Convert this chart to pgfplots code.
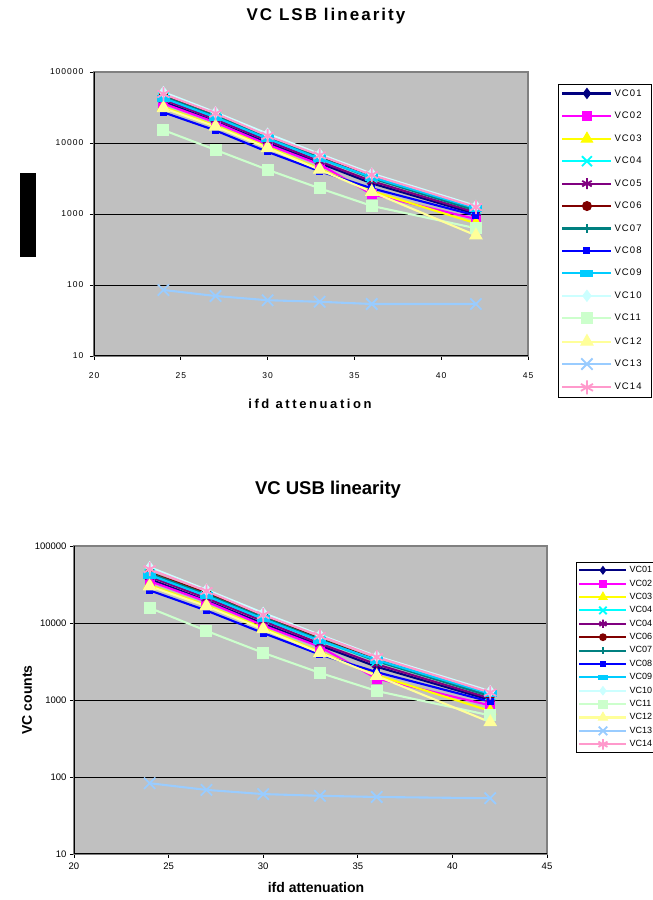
\documentclass[border=0pt]{standalone}
\usepackage{fontspec}
\setmainfont{Liberation Sans}
\newfontfamily\spc[LetterSpace=12]{Liberation Sans}
\newfontfamily\spcw[LetterSpace=20]{Liberation Sans}
\usepackage{pgfplots}
\pgfplotsset{compat=1.18}
\definecolor{c01}{HTML}{000080}
\definecolor{c02}{HTML}{FF00FF}
\definecolor{c03}{HTML}{FFFF00}
\definecolor{c04}{HTML}{00FFFF}
\definecolor{c05}{HTML}{800080}
\definecolor{c06}{HTML}{800000}
\definecolor{c07}{HTML}{008080}
\definecolor{c08}{HTML}{0000FF}
\definecolor{c09}{HTML}{00CCFF}
\definecolor{c10}{HTML}{CCFFFF}
\definecolor{c11}{HTML}{CCFFCC}
\definecolor{c12}{HTML}{FFFF99}
\definecolor{c13}{HTML}{99CCFF}
\definecolor{c14}{HTML}{FF99CC}
\definecolor{plotgray}{HTML}{C0C0C0}
\definecolor{framegray}{HTML}{808080}
\tikzset{
  s01/.style={c01, line width=2.1pt, mark=diamond*, mark size=5pt, mark options={solid, line width=1pt}},
  s02/.style={c02, line width=2.1pt, mark=square*, mark size=4.5pt, mark options={solid, line width=1pt}},
  s03/.style={c03, line width=2.1pt, mark=triangle*, mark size=6.5pt, mark options={solid, line width=1pt}},
  s04/.style={c04, line width=2.1pt, mark=x, mark size=7pt, mark options={solid, line width=1.8pt}},
  s05/.style={c05, line width=2.1pt, mark=asterisk, mark size=5.5pt, mark options={solid, line width=1.8pt}},
  s06/.style={c06, line width=2.1pt, mark=*, mark size=4.5pt, mark options={solid, line width=1pt}},
  s07/.style={c07, line width=2.1pt, mark=+, mark size=4.5pt, mark options={solid, line width=1.6pt}},
  s08/.style={c08, line width=2.1pt, mark=square*, mark size=3pt, mark options={solid, line width=1pt}},
  s09/.style={c09, line width=2.1pt, mark=square*, mark size=3pt, mark options={solid, xscale=2, line width=1pt}},
  s10/.style={c10, line width=2.1pt, mark=diamond*, mark size=5.5pt, mark options={solid, line width=1pt}},
  s11/.style={c11, line width=2.1pt, mark=square*, mark size=5.5pt, mark options={solid, line width=1pt}},
  s12/.style={c12, line width=2.1pt, mark=triangle*, mark size=7pt, mark options={solid, line width=1pt}},
  s13/.style={c13, line width=2.1pt, mark=x, mark size=8pt, mark options={solid, line width=1.8pt}},
  s14/.style={c14, line width=2.1pt, mark=asterisk, mark size=7pt, mark options={solid, line width=1.8pt}},
}
\begin{document}
\begin{tikzpicture}
\path[use as bounding box] (0pt,0pt) rectangle (653pt,900pt);
% ---------------- top chart ----------------
\node[font=\spc\fontsize{17}{20}\selectfont\bfseries] at (326pt,884pt) {VC LSB linearity};
\fill[black] (20pt,643pt) rectangle (36pt,727pt);
\begin{axis}[
  scale only axis,
  at={(94pt,544pt)}, anchor=south west, width=434pt, height=284pt,
  xmin=20, xmax=45, ymin=10, ymax=100000, ymode=log,
  xtick={20,25,30,35,40,45},
  ytick={10,100,1000,10000,100000},
  yticklabels={10,100,1000,10000,100000},
  yminorticks=false,
  ymajorgrids, major grid style={black, line width=0.8pt},
  axis background/.style={fill=plotgray},
  axis line style={draw=framegray, line width=1.2pt},
  tick align=outside, xtick pos=bottom, ytick pos=left,
  major tick length=4pt, tick style={black, line width=0.8pt},
  /pgf/number format/assume math mode=true,
  legend cell align=left,
  ticklabel style={font=\spc\fontsize{8.5}{10}\selectfont},
  xticklabel style={yshift=-9pt},
  yticklabel style={xshift=-3pt},
  legend style={draw=black, fill=white, line width=0.8pt, at={(1,1)}, anchor=north west, xshift=30pt, yshift=-12pt,
    font=\spc\fontsize{9.5}{11}\selectfont, row sep=10.3pt, inner sep=3pt},
  legend image code/.code={\draw[mark repeat=2,mark phase=2,#1] plot coordinates {(0pt,0pt) (24.5pt,0pt) (49pt,0pt)};},
]
\addplot[s01] coordinates {(24,38000) (27,20000) (30,10000) (33,5200) (36,2700) (42,1000)};
\addplot[s02] coordinates {(24,36000) (27,19500) (30,9500) (33,5000) (36,1900) (42,850)};
\addplot[s03] coordinates {(24,32000) (27,17500) (30,8800) (33,4300) (36,2100) (42,740)};
\addplot[s04] coordinates {(24,44000) (27,23000) (30,11500) (33,6000) (36,3200) (42,1150)};
\addplot[s05] coordinates {(24,41000) (27,21500) (30,10800) (33,5500) (36,2900) (42,1050)};
\addplot[s06] coordinates {(24,46000) (27,25000) (30,12500) (33,6300) (36,3300) (42,1150)};
\addplot[s07] coordinates {(24,45000) (27,24000) (30,12000) (33,6200) (36,3200) (42,1120)};
\addplot[s08] coordinates {(24,27000) (27,15000) (30,7500) (33,4000) (36,2300) (42,950)};
\addplot[s09] coordinates {(24,43000) (27,23000) (30,11500) (33,6000) (36,3300) (42,1200)};
\addplot[s10] coordinates {(24,52000) (27,27000) (30,13500) (33,7000) (36,3700) (42,1300)};
\addplot[s11] coordinates {(24,15200) (27,8000) (30,4200) (33,2300) (36,1300) (42,630)};
\addplot[s12] coordinates {(24,31000) (27,17000) (30,8500) (33,4200) (36,2050) (42,500)};
\addplot[s13] coordinates {(24,85) (27,70) (30,61) (33,58) (36,54) (42,54)};
\addplot[s14] coordinates {(24,49000) (27,26000) (30,12600) (33,6700) (36,3550) (42,1250)};
\legend{VC01\hspace*{5pt},VC02,VC03,VC04,VC05,VC06,VC07,VC08,VC09,VC10,VC11,VC12,VC13,VC14}
\draw[black, line width=1.2pt] (rel axis cs:0,1) -- (rel axis cs:0,0) -- (rel axis cs:1,0);
\end{axis}
\node[font=\spcw\fontsize{13}{15}\selectfont\bfseries] at (310pt,496pt) {ifd attenuation};
% ---------------- bottom chart ----------------
\node[font=\fontsize{18.5}{22}\selectfont\bfseries] at (328pt,410pt) {VC USB linearity};
\begin{axis}[
  scale only axis,
  at={(74pt,46pt)}, anchor=south west, width=473pt, height=308pt,
  xmin=20, xmax=45, ymin=10, ymax=100000, ymode=log,
  xtick={20,25,30,35,40,45},
  ytick={10,100,1000,10000,100000},
  yticklabels={10,100,1000,10000,100000},
  yminorticks=false,
  ymajorgrids, major grid style={black, line width=0.8pt},
  axis background/.style={fill=plotgray},
  axis line style={draw=framegray, line width=1.2pt},
  tick align=outside, xtick pos=bottom, ytick pos=left,
  major tick length=4pt, tick style={black, line width=0.8pt},
  /pgf/number format/assume math mode=true,
  legend cell align=left,
  ticklabel style={font=\fontsize{9.5}{11}\selectfont},
  xticklabel style={yshift=-1pt},
  legend style={draw=black, fill=white, line width=0.8pt, at={(1,1)}, anchor=north west, xshift=29pt, yshift=-16pt,
    font=\fontsize{9}{10}\selectfont, row sep=1.6pt, inner sep=2pt},
  legend image code/.code={\draw[mark repeat=2,mark phase=2,#1, mark size=0.75*\pgfplotmarksize] plot coordinates {(0pt,0pt) (23.5pt,0pt) (47pt,0pt)};},
]
\addplot[s01] coordinates {(24,37000) (27,19500) (30,9800) (33,5100) (36,2700) (42,1000)};
\addplot[s02] coordinates {(24,35000) (27,19000) (30,9300) (33,4900) (36,1900) (42,850)};
\addplot[s03] coordinates {(24,31000) (27,17000) (30,8600) (33,4200) (36,2100) (42,720)};
\addplot[s04] coordinates {(24,43000) (27,22500) (30,11300) (33,5900) (36,3200) (42,1150)};
\addplot[s05] coordinates {(24,40000) (27,21000) (30,10600) (33,5400) (36,2900) (42,1050)};
\addplot[s06] coordinates {(24,45000) (27,24500) (30,12300) (33,6200) (36,3300) (42,1150)};
\addplot[s07] coordinates {(24,44000) (27,23500) (30,11800) (33,6100) (36,3200) (42,1120)};
\addplot[s08] coordinates {(24,26500) (27,14500) (30,7400) (33,3900) (36,2300) (42,950)};
\addplot[s09] coordinates {(24,42000) (27,22500) (30,11300) (33,5900) (36,3300) (42,1200)};
\addplot[s10] coordinates {(24,53000) (27,27000) (30,13500) (33,7000) (36,3700) (42,1300)};
\addplot[s11] coordinates {(24,15700) (27,7900) (30,4100) (33,2250) (36,1310) (42,630)};
\addplot[s12] coordinates {(24,30000) (27,16500) (30,8300) (33,4100) (36,2050) (42,515)};
\addplot[s13] coordinates {(24,83) (27,68) (30,60) (33,57) (36,55) (42,53)};
\addplot[s14] coordinates {(24,50000) (27,26000) (30,12700) (33,6800) (36,3600) (42,1250)};
\legend{VC01,VC02,VC03,VC04,VC04,VC06,VC07,VC08,VC09,VC10,VC11,VC12,VC13,VC14}
\draw[black, line width=1.2pt] (rel axis cs:0,1) -- (rel axis cs:0,0) -- (rel axis cs:1,0);
\end{axis}
\node[font=\fontsize{14}{17}\selectfont\bfseries] at (316pt,13pt) {ifd attenuation};
\node[font=\fontsize{14}{17}\selectfont\bfseries, rotate=90] at (27pt,200pt) {VC counts};
\end{tikzpicture}
\end{document}
